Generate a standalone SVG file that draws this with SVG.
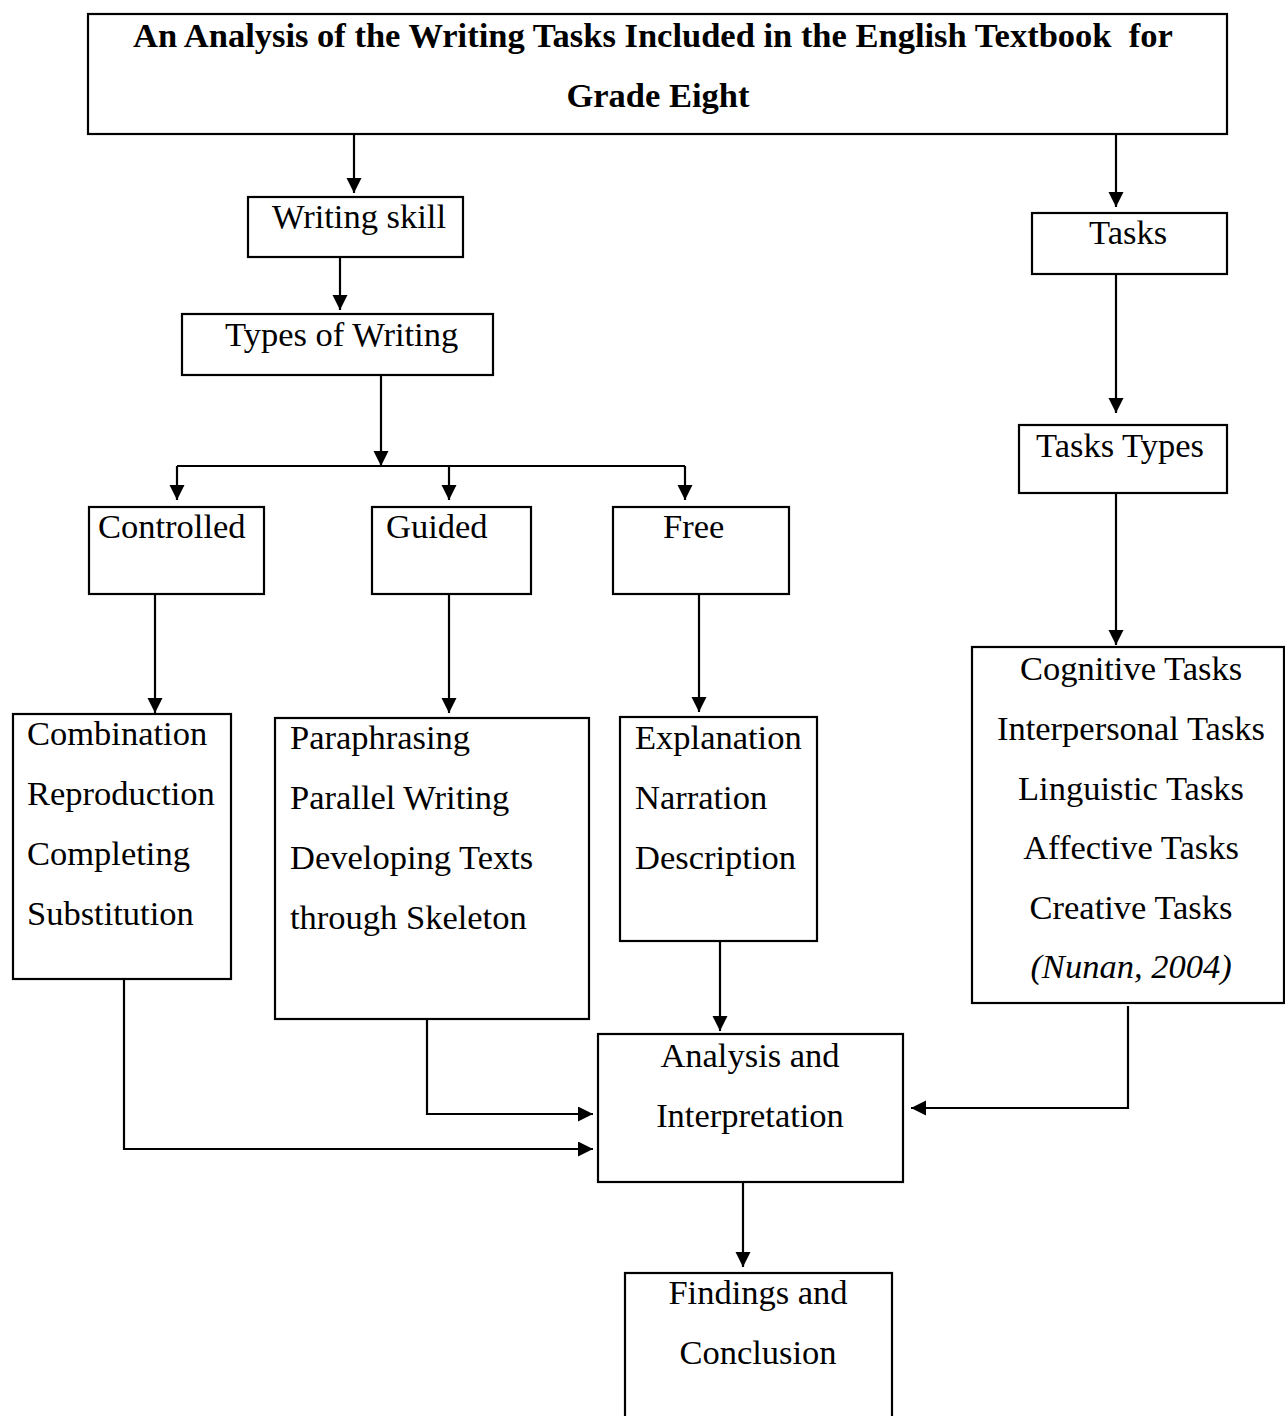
<svg xmlns="http://www.w3.org/2000/svg" width="1285" height="1416" viewBox="0 0 1285 1416">
<style>
.box{fill:#fff;stroke:#000;stroke-width:2.2}
.t{font-family:"Liberation Serif","Times New Roman",serif;font-size:34.5px;fill:#000}
.c{text-anchor:middle}
.b{font-weight:bold}
.i{font-style:italic}
.ln{fill:none;stroke:#000;stroke-width:2.2}
</style>
<defs>
<marker id="ah" markerUnits="userSpaceOnUse" markerWidth="16" markerHeight="16" refX="15" refY="7.5" orient="auto">
<path d="M0,0 L15,7.5 L0,15 z" fill="#000"/>
</marker>
</defs>
<g id="connectors">
<path class="ln" d="M354,134 V193" marker-end="url(#ah)"/>
<path class="ln" d="M1116,134 V207" marker-end="url(#ah)"/>
<path class="ln" d="M340,257 V310" marker-end="url(#ah)"/>
<path class="ln" d="M1116,274 V413" marker-end="url(#ah)"/>
<path class="ln" d="M381,375 V466" marker-end="url(#ah)"/>
<path class="ln" d="M177,466 H685"/>
<path class="ln" d="M177,466 V500" marker-end="url(#ah)"/>
<path class="ln" d="M449,466 V500" marker-end="url(#ah)"/>
<path class="ln" d="M685,466 V500" marker-end="url(#ah)"/>
<path class="ln" d="M1116,493 V645" marker-end="url(#ah)"/>
<path class="ln" d="M155,594 V713" marker-end="url(#ah)"/>
<path class="ln" d="M449,594 V713" marker-end="url(#ah)"/>
<path class="ln" d="M699,594 V712" marker-end="url(#ah)"/>
<path class="ln" d="M720,941 V1031" marker-end="url(#ah)"/>
<path class="ln" d="M427,1013 V1114 H593" marker-end="url(#ah)"/>
<path class="ln" d="M124,979 V1149 H593" marker-end="url(#ah)"/>
<path class="ln" d="M1128,1006 V1108 H911" marker-end="url(#ah)"/>
<path class="ln" d="M743,1177 V1267" marker-end="url(#ah)"/>
</g>
<g id="title">
<rect class="box" x="88" y="14" width="1139" height="120"/>
<text class="t b" x="133" y="47">An Analysis of the Writing Tasks Included in the English Textbook&#160; for</text>
<text class="t b c" x="658" y="107">Grade Eight</text>
</g>
<g id="writing-skill">
<rect class="box" x="248" y="197" width="215" height="60"/>
<text class="t" x="272" y="228">Writing skill</text>
</g>
<g id="tasks">
<rect class="box" x="1032" y="213" width="195" height="61"/>
<text class="t" x="1089" y="244">Tasks</text>
</g>
<g id="types-of-writing">
<rect class="box" x="182" y="314" width="311" height="61"/>
<text class="t" x="225" y="346">Types of Writing</text>
</g>
<g id="tasks-types">
<rect class="box" x="1019" y="425" width="208" height="68"/>
<text class="t" x="1036" y="457">Tasks Types</text>
</g>
<g id="controlled">
<rect class="box" x="89" y="507" width="175" height="87"/>
<text class="t" x="98" y="538">Controlled</text>
</g>
<g id="guided">
<rect class="box" x="372" y="507" width="159" height="87"/>
<text class="t" x="386" y="538">Guided</text>
</g>
<g id="free">
<rect class="box" x="613" y="507" width="176" height="87"/>
<text class="t" x="663" y="538">Free</text>
</g>
<g id="controlled-list">
<rect class="box" x="13" y="714" width="218" height="265"/>
<text class="t" x="27" y="745">Combination</text>
<text class="t" x="27" y="805">Reproduction</text>
<text class="t" x="27" y="865">Completing</text>
<text class="t" x="27" y="925">Substitution</text>
</g>
<g id="guided-list">
<rect class="box" x="275" y="718" width="314" height="301"/>
<text class="t" x="290" y="749">Paraphrasing</text>
<text class="t" x="290" y="809">Parallel Writing</text>
<text class="t" x="290" y="869">Developing Texts</text>
<text class="t" x="290" y="929">through Skeleton</text>
</g>
<g id="free-list">
<rect class="box" x="620" y="717" width="197" height="224"/>
<text class="t" x="635" y="749">Explanation</text>
<text class="t" x="635" y="809">Narration</text>
<text class="t" x="635" y="869">Description</text>
</g>
<g id="task-types-list">
<rect class="box" x="972" y="647" width="312" height="356"/>
<text class="t c" x="1131" y="680">Cognitive Tasks</text>
<text class="t c" x="1131" y="740">Interpersonal Tasks</text>
<text class="t c" x="1131" y="800">Linguistic Tasks</text>
<text class="t c" x="1131" y="859">Affective Tasks</text>
<text class="t c" x="1131" y="919">Creative Tasks</text>
<text class="t c i" x="1131" y="978">(Nunan, 2004)</text>
</g>
<g id="analysis">
<rect class="box" x="598" y="1034" width="305" height="148"/>
<text class="t c" x="750" y="1067">Analysis and</text>
<text class="t c" x="750" y="1127">Interpretation</text>
</g>
<g id="findings">
<rect class="box" x="625" y="1273" width="267" height="160"/>
<text class="t c" x="758" y="1304">Findings and</text>
<text class="t c" x="758" y="1364">Conclusion</text>
</g>
</svg>
